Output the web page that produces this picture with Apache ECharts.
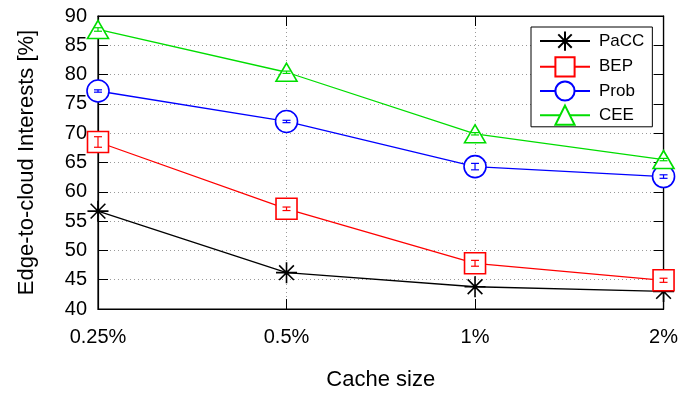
<!DOCTYPE html>
<html><head><meta charset="utf-8">
<script src="https://cdn.jsdelivr.net/npm/echarts@6/dist/echarts.min.js"></script>
<style>html,body{margin:0;padding:0;background:#fff}#c{width:681px;height:396px}</style>
</head><body><div id="c"></div>
<script>
var categories = ['0.25%', '0.5%', '1%', '2%'];
var pacc = [56.7, 46.2, 43.8, 43.0];
var bep  = [68.5, 57.1, 47.8, 44.9];
var prob = [77.2, 72.0, 64.3, 62.6];
var cee  = [87.7, 80.4, 69.9, 65.5];
var bepErr  = [0.9, 0.3, 0.5, 0.35];
var probErr = [0.2, 0.2, 0.55, 0.3];
var ceeErr  = [0.3, 0.2, 0.2, 0.2];
var yTicks = [40, 45, 50, 55, 60, 65, 70, 75, 80, 85, 90];

var FONT = 'Liberation Sans, Arial, Helvetica, sans-serif';
var asterisk = 'path://M0,10L20,10M10,0L10,20M3,3L17,17M17,3L3,17';

function lineSeries(name, data, color, symbol, size) {
  return {
    name: name, type: 'line', data: data, symbol: symbol, symbolSize: size,
    lineStyle: {color: color, width: 1.3},
    itemStyle: {color: symbol === asterisk ? 'none' : '#fff', borderColor: color, borderWidth: 1.6},
    color: color, z: 3
  };
}
function errSeries(name, vals, errs, color) {
  return {
    type: 'custom', name: name + '_err', silent: true, z: 4,
    data: vals.map(function (v, i) { return [i, v - errs[i], v + errs[i]]; }),
    renderItem: function (params, api) {
      var lo = api.coord([api.value(0), api.value(1)]);
      var hi = api.coord([api.value(0), api.value(2)]);
      var w = 4;
      var st = {stroke: color, lineWidth: 1.2};
      return {type: 'group', children: [
        {type: 'line', shape: {x1: lo[0], y1: lo[1], x2: hi[0], y2: hi[1]}, style: st},
        {type: 'line', shape: {x1: lo[0] - w, y1: lo[1], x2: lo[0] + w, y2: lo[1]}, style: st},
        {type: 'line', shape: {x1: hi[0] - w, y1: hi[1], x2: hi[0] + w, y2: hi[1]}, style: st}
      ]};
    }
  };
}

var chart = echarts.init(document.getElementById('c'), null, {renderer: 'canvas'});
var gridLine = {show: true, lineStyle: {color: '#9a9a9a', type: [1, 3], width: 1}};
chart.setOption({
  animation: false,
  textStyle: {fontFamily: FONT},
  grid: {left: 98, right: 14, top: 16, bottom: 84, show: true, borderColor: '#000', borderWidth: 1.2, containLabel: false},
  legend: {
    orient: 'vertical', left: 531, top: 27, width: 125,
    data: ['PaCC', 'BEP', 'Prob', 'CEE'],
    itemWidth: 50, itemHeight: 24, itemGap: 3,
    padding: [2, 8, 1, 8],
    backgroundColor: '#fff', borderColor: '#000', borderWidth: 1,
    textStyle: {fontSize: 17, color: '#000', fontFamily: FONT, padding: [0, 0, 0, 4]}
  },
  xAxis: [{
    type: 'category', data: categories, boundaryGap: false,
    axisLine: {lineStyle: {color: '#000', width: 1.2}},
    axisTick: {inside: true, length: 10, alignWithLabel: true, lineStyle: {color: '#000'}},
    axisLabel: {fontSize: 20, color: '#000', margin: 18, fontFamily: FONT},
    splitLine: gridLine,
    name: 'Cache size', nameLocation: 'middle', nameGap: 60,
    nameTextStyle: {fontSize: 22, color: '#000', fontFamily: FONT}
  }, {
    type: 'category', data: categories, boundaryGap: false, position: 'top',
    axisLine: {lineStyle: {color: '#000', width: 1.2}},
    axisTick: {inside: true, length: 10, lineStyle: {color: '#000'}},
    axisLabel: {show: false}, splitLine: {show: false}
  }],
  yAxis: [{
    type: 'value', min: 40, max: 90, interval: 5,
    axisLine: {show: true, lineStyle: {color: '#000', width: 1.2}},
    axisTick: {show: true, inside: true, length: 10, lineStyle: {color: '#000'}},
    axisLabel: {fontSize: 20, color: '#000', margin: 11, fontFamily: FONT,
      formatter: function (v) { return yTicks.indexOf(v) >= 0 ? String(v) : ''; }},
    splitLine: gridLine,
    name: 'Edge-to-cloud Interests [%]', nameLocation: 'middle', nameGap: 60,
    nameTextStyle: {fontSize: 22, color: '#000', fontFamily: FONT}
  }, {
    type: 'value', min: 40, max: 90, interval: 5, position: 'right',
    axisLine: {show: true, lineStyle: {color: '#000', width: 1.2}},
    axisTick: {show: true, inside: true, length: 10, lineStyle: {color: '#000'}},
    axisLabel: {show: false}, splitLine: {show: false}
  }],
  series: [
    lineSeries('PaCC', pacc, '#000000', asterisk, 21),
    lineSeries('BEP', bep, '#ff0000', 'rect', 21),
    lineSeries('Prob', prob, '#0000ff', 'circle', 22),
    lineSeries('CEE', cee, '#00dd00', 'triangle', [21, 18]),
    errSeries('BEP', bep, bepErr, '#ff0000'),
    errSeries('Prob', prob, probErr, '#0000ff'),
    errSeries('CEE', cee, ceeErr, '#00dd00')
  ]
});
</script></body></html>
